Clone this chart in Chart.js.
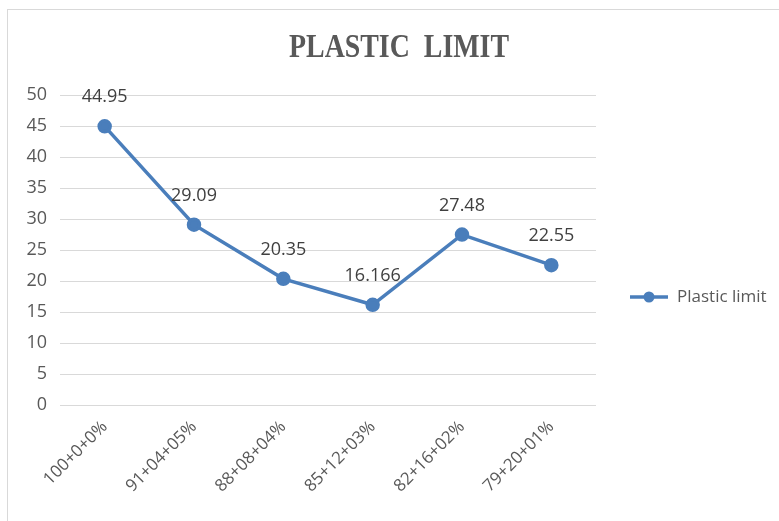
<!DOCTYPE html>
<html>
<head>
<meta charset="utf-8">
<script src="https://cdn.jsdelivr.net/npm/chart.js@4"></script>
<style>
  html, body { margin: 0; padding: 0; background: #fff; }
  #wrap { position: relative; width: 779px; height: 521px; overflow: hidden; }
  #frame { position: absolute; left: 7px; top: 9px; width: 800px; height: 540px; border: 1px solid #d9d9d9; }
  canvas { position: absolute; left: 0; top: 0; }
</style>
</head>
<body>
<div id="wrap">
  <div id="frame"></div>
  <canvas id="c" width="779" height="521"></canvas>
</div>
<script>
// valores
var mixes = ["100+0+0%", "91+04+05%", "88+08+04%", "85+12+03%", "82+16+02%", "79+20+01%"];
var plasticLimit = [44.95, 29.09, 20.35, 16.166, 27.48, 22.55];
var seriesName = "Plastic limit";
var chartTitle = "PLASTIC  LIMIT";

var blue = "#4a7ebb";
var grey = "#595959";
var narrow = "'Liberation Sans Narrow', 'Open Sans', sans-serif";

// título centrado na largura toda, um pouco condensado como no original
var wideTitle = {
  id: "wideTitle",
  afterDraw: function (chart) {
    var ctx = chart.ctx;
    ctx.save();
    ctx.translate(399, 48);
    ctx.scale(0.82, 1);
    ctx.font = "bold 34px 'Liberation Serif', 'Times New Roman', serif";
    ctx.fillStyle = grey;
    ctx.textAlign = "center";
    ctx.textBaseline = "middle";
    ctx.fillText(chartTitle, 0, 0);
    ctx.restore();
  }
};

// rótulos de valor acima dos pontos
var valueLabels = {
  id: "valueLabels",
  afterDatasetsDraw: function (chart) {
    var ctx = chart.ctx;
    var meta = chart.getDatasetMeta(0);
    ctx.save();
    ctx.font = "18px " + narrow;
    ctx.fillStyle = "#404040";
    ctx.textAlign = "center";
    ctx.textBaseline = "middle";
    meta.data.forEach(function (pt, i) {
      ctx.fillText(String(plasticLimit[i]), pt.x, pt.y - 29);
    });
    ctx.restore();
  }
};

// legenda à direita: linha com marcador
var sideLegend = {
  id: "sideLegend",
  afterDraw: function (chart) {
    var ctx = chart.ctx;
    var y = 297;
    ctx.save();
    ctx.strokeStyle = blue;
    ctx.lineWidth = 3.5;
    ctx.beginPath();
    ctx.moveTo(630, y);
    ctx.lineTo(668, y);
    ctx.stroke();
    ctx.fillStyle = blue;
    ctx.beginPath();
    ctx.arc(649, y, 5.5, 0, Math.PI * 2);
    ctx.fill();
    ctx.font = "17px " + narrow;
    ctx.fillStyle = grey;
    ctx.textAlign = "left";
    ctx.textBaseline = "middle";
    ctx.fillText(chart.data.datasets[0].label, 677, y);
    ctx.restore();
  }
};

new Chart(document.getElementById("c"), {
  type: "line",
  data: {
    labels: mixes,
    datasets: [{
      label: seriesName,
      data: plasticLimit,
      borderColor: blue,
      backgroundColor: blue,
      borderWidth: 3.5,
      pointRadius: 5.5,
      pointHoverRadius: 5.5,
      pointBackgroundColor: blue,
      pointBorderColor: blue,
      tension: 0
    }]
  },
  options: {
    responsive: false,
    animation: false,
    layout: { padding: { left: 0, right: 183, top: 95, bottom: 0 } },
    plugins: {
      legend: { display: false },
      tooltip: { enabled: false },
      title: { display: false }
    },
    scales: {
      x: {
        offset: true,
        grid: { display: false },
        border: { display: false },
        ticks: {
          color: grey,
          font: { family: narrow, size: 17 },
          maxRotation: 45,
          minRotation: 45,
          padding: 4
        },
        afterFit: function (s) { s.height = 116; }
      },
      y: {
        min: 0,
        max: 50,
        grid: { color: "#d9d9d9", lineWidth: 1, drawTicks: false },
        border: { display: false },
        ticks: {
          stepSize: 5,
          color: grey,
          font: { family: narrow, size: 18 },
          padding: 13
        },
        afterFit: function (s) { s.width = 60; }
      }
    }
  },
  plugins: [valueLabels, sideLegend, wideTitle]
});
</script>
</body>
</html>
